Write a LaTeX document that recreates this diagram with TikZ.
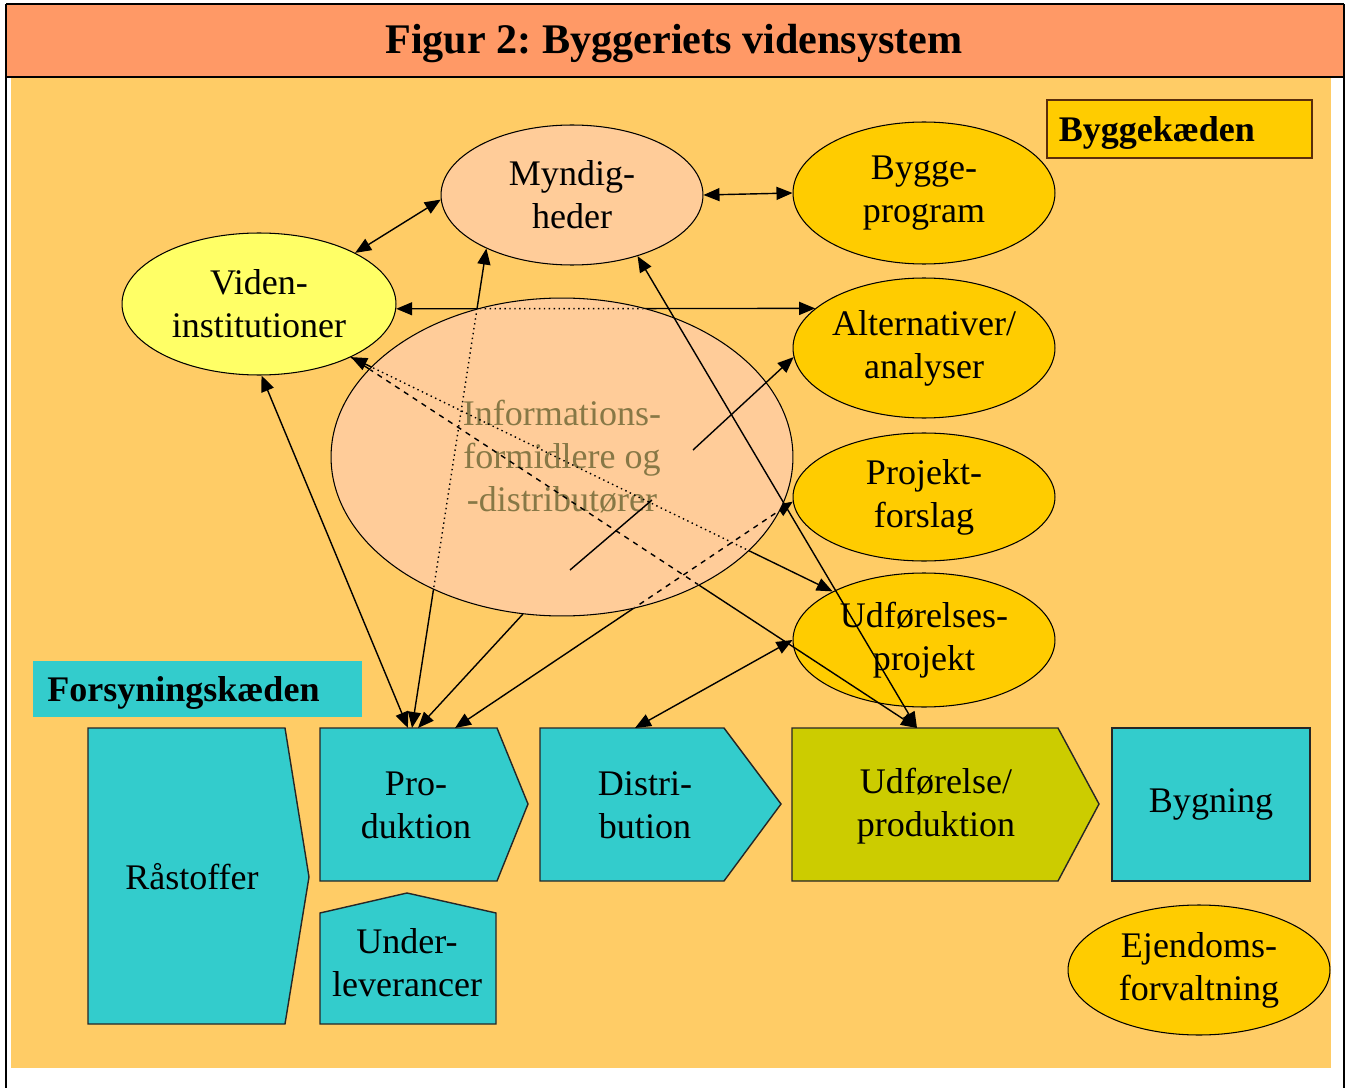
\documentclass[tikz,border=0pt]{standalone}
\usepackage{fontspec}
\setmainfont{Liberation Serif}
\usetikzlibrary{shapes.geometric, arrows.meta}

\definecolor{titleorange}{RGB}{255,153,102}
\definecolor{bgyellow}{RGB}{255,204,102}
\definecolor{gold}{RGB}{255,204,0}
\definecolor{peach}{RGB}{255,204,153}
\definecolor{lightyellow}{RGB}{255,255,102}
\definecolor{chaincyan}{RGB}{51,204,204}
\definecolor{udfolive}{RGB}{204,204,0}
\definecolor{boxbrown}{RGB}{90,45,10}
\definecolor{infotext}{RGB}{135,120,70}

\newcommand{\lblfont}{\fontsize{20.5}{24.5}\selectfont}
\frenchspacing

\begin{document}
\begin{tikzpicture}[
x=0.02cm, y=-0.02cm,
>={Triangle[length=0.32cm,width=0.26cm]},
oval/.style={ellipse, draw=black, line width=0.6pt, inner sep=0pt, align=center, font=\lblfont},
chev/.style={draw=black!85, line width=0.8pt},
chevtext/.style={align=center, font=\lblfont, inner sep=0pt},
chainlabel/.style={anchor=west, align=left, text depth=0pt, font=\lblfont\bfseries},
link/.style={->, line width=0.8pt},
twoway/.style={<->, line width=0.8pt},
plain/.style={line width=0.8pt},
]

\useasboundingbox (0,0) rectangle (1347,1088);

% frame and title
\fill[bgyellow] (11,78) rectangle (1331,1068);
\fill[titleorange] (6,4) rectangle (1344,77);
\draw[line width=1.6pt] (6,4) -- (1344,4);
\draw[line width=1.6pt] (6,77) -- (1344,77);
\draw[line width=1.6pt] (6,4) -- (6,1088);
\draw[line width=1pt] (1344,4) -- (1344,1088);
\node[font=\fontsize{24}{28}\selectfont\bfseries] (title) at (674,44) {Figur 2: Byggeriets vidensystem};

% chain labels
\node[chainlabel, fill=gold, draw=boxbrown, line width=0.9pt, minimum height=1.16cm, text width=4.82cm, inner xsep=0.24cm] (byggek) at (1046,129) {Byggekæden};
\node[chainlabel, fill=chaincyan, minimum height=1.12cm, text width=6.02cm, inner xsep=0.28cm] (forsyn) at (33,689) {Forsyningskæden};

% ellipses
\node[oval, fill=peach, minimum width=5.24cm, minimum height=2.8cm] (myn) at (572,195) {Myndig-\\heder};
\node[oval, fill=gold, minimum width=5.24cm, minimum height=2.84cm] (byg) at (924,193) {Bygge-\\program};
\node[oval, fill=lightyellow, minimum width=5.48cm, minimum height=2.84cm] (vid) at (259,304) {Viden-\\institutioner};
\node[oval, fill=gold, minimum width=5.24cm, minimum height=2.8cm] (alt) at (924,348) {Alternativer/\\analyser};
\node[oval, fill=gold, minimum width=5.24cm, minimum height=2.56cm] (proj) at (924,497) {Projekt-\\forslag};
\node[oval, fill=gold, minimum width=5.24cm, minimum height=2.68cm] (udp) at (924,640) {Udførelses-\\projekt};
\node[oval, fill=gold, minimum width=5.24cm, minimum height=2.6cm] (ejd) at (1199,970) {Ejendoms-\\forvaltning};

% supply chain
\draw[chev, fill=chaincyan] (88,728) -- (285,728) -- (309,877) -- (285,1024) -- (88,1024) -- cycle;
\node[chevtext] (rast) at (192,877) {Råstoffer};
\draw[chev, fill=chaincyan] (320,728) -- (497,728) -- (528,804) -- (497,881) -- (320,881) -- cycle;
\node[chevtext] (prod) at (416,805) {Pro-\\duktion};
\draw[chev, fill=chaincyan] (320,913) -- (407,893) -- (496,913) -- (496,1024) -- (320,1024) -- cycle;
\node[chevtext] (under) at (407,963) {Under-\\leverancer};
\draw[chev, fill=chaincyan] (540,728) -- (724,728) -- (781,804) -- (724,881) -- (540,881) -- cycle;
\node[chevtext] (dist) at (645,805) {Distri-\\bution};
\draw[chev, fill=udfolive] (792,728) -- (1058,728) -- (1099,804) -- (1058,881) -- (792,881) -- cycle;
\node[chevtext] (udf) at (936,806) {Udførelse/\\produktion};
\draw[chev, fill=chaincyan] (1112,728) rectangle (1310,881);
\node[chevtext] (bygn) at (1211,804) {Bygning};

\coordinate (prodA) at (408,728);
\coordinate (prodB) at (412,728);
\coordinate (prodD) at (418,728);
\coordinate (prodC) at (455,728);
\coordinate (disttop) at (635,728);
\coordinate (udftop) at (917,728);
\coordinate (ia) at (693,450);
\coordinate (seg1) at (570,570);
\coordinate (seg2) at (652,500);

% connectors behind the info ellipse
\draw[twoway] (vid.28) -- (myn.182);
\draw[twoway] (myn.0) -- (byg.180);
\draw[twoway] (vid.-2) -- (alt.160);
\draw[twoway] (vid.-88) -- (prodA);
\draw[twoway] (prodB) -- (myn.212);
\draw[twoway] (proj.182) -- (prodC);
\draw[twoway] (vid.-30) -- (udp.152);
\draw[link] (vid.-30) -- (udftop);
\draw[twoway] (udp.180) -- (disttop);

% info ellipse
\node[oval, fill=peach, minimum width=9.24cm, minimum height=6.36cm, text=infotext] (info) at (562,457) {Informations-\\formidlere og\\-distributører};
\begin{scope}
\clip (562,457) ellipse [x radius=4.6cm, y radius=3.16cm];
\draw[plain, dotted] (vid.-2) -- (alt.160);
\draw[plain, dotted] (prodB) -- (myn.212);
\draw[plain, dotted] (vid.-30) -- (udp.152);
\draw[plain, dashed] (vid.-30) -- (udftop);
\draw[plain, dashed] (proj.182) -- (prodC);
\end{scope}

% connectors on top
\draw[twoway] (myn.-43) -- (udftop);
\draw[link] (info.-104) -- (prodD);
\draw[link] (ia) -- (alt.184);
\draw[plain] (seg1) -- (seg2);

\end{tikzpicture}
\end{document}
